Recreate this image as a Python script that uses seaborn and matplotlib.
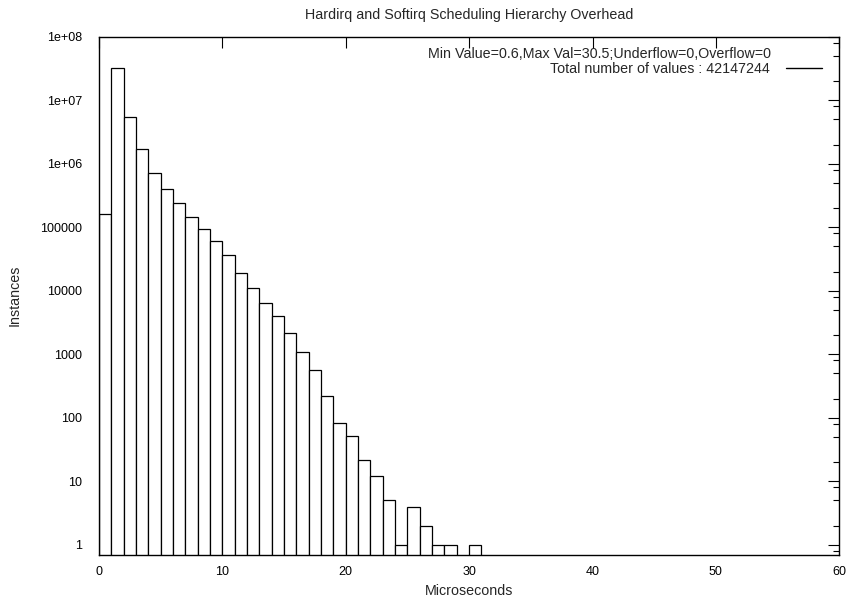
import numpy as np
import pandas as pd
import seaborn as sns
import matplotlib
matplotlib.use("Agg")
import matplotlib.pyplot as plt
from matplotlib.ticker import FixedLocator, LogLocator, NullFormatter
from matplotlib.lines import Line2D

# ---- data ----
bin_left = list(range(0, 31))
counts = [163000, 32500000, 5400000, 1710000, 710000, 407000, 240000, 144000,
          93400, 60500, 36400, 19000, 11000, 6430, 3970, 2130, 1090, 557,
          221, 83, 52, 22, 12, 5, 1, 4, 2, 1, 1, 0, 1]
x_ticks = [0, 10, 20, 30, 40, 50, 60]
y_ticks = [1, 10, 100, 1000, 10000, 100000, 1e6, 1e7, 1e8]
y_tick_labels = ["1", "10", "100", "1000", "10000", "100000", "1e+06", "1e+07", "1e+08"]
title = "Hardirq and Softirq Scheduling Hierarchy Overhead"
info_text = "Min Value=0.6,Max Val=30.5;Underflow=0,Overflow=0"
legend_text = "Total number of values : 42147244"

df = pd.DataFrame({"x": [b + 0.5 for b in bin_left], "n": counts})

sns.set_theme(style="white")
plt.rcParams["font.family"] = ["Liberation Sans", "DejaVu Sans"]
FS_TICK = 9.0
FS = 10.3

fig = plt.figure(figsize=(8.52, 6.04), dpi=100)
W, H = 852, 604
ax = fig.add_axes([99 / W, 1 - 554.7 / H, (839.3 - 99) / W, (554.7 - 36.7) / H])

edges = list(range(0, 32))
sns.histplot(data=df, x="x", weights="n", bins=edges, ax=ax,
             color="white", edgecolor="black", linewidth=0.9, alpha=1.0)

ax.set_yscale("log")
ax.set_xlim(0, 60)
ax.set_ylim(0.7, 1e8)

ax.xaxis.set_major_locator(FixedLocator(x_ticks))
ax.set_xticklabels([str(t) for t in x_ticks])
ax.yaxis.set_major_locator(FixedLocator(y_ticks))
ax.set_yticklabels(y_tick_labels)
ax.yaxis.set_minor_locator(LogLocator(base=10, subs=(2.0, 5.0, 8.0), numticks=20))
ax.yaxis.set_minor_formatter(NullFormatter())

ax.tick_params(axis="both", which="both", direction="in", top=True, right=True,
               colors="black", labelsize=FS_TICK, width=0.8)
ax.tick_params(axis="both", which="major", length=8)
ax.tick_params(axis="y", which="minor", length=4)
ax.tick_params(axis="y", pad=12)
ax.tick_params(axis="x", pad=8)

for s in ax.spines.values():
    s.set_color("black")
    s.set_linewidth(1.0)

ax.set_xlabel("")
ax.set_ylabel("")
fig.text(469 / W, 1 - 591 / H, "Microseconds", ha="center", va="center", fontsize=FS)
fig.text(15 / W, 1 - 295 / H, "Instances", ha="center", va="center",
         rotation=90, fontsize=FS)
fig.text(469 / W, 1 - 15 / H, title, ha="center", va="center", fontsize=FS)
fig.text(771.5 / W, 1 - 54 / H, info_text, ha="right", va="center", fontsize=FS)

handle = Line2D([], [], color="black", linewidth=1.0)
leg = ax.legend([handle], [legend_text], loc="center right",
                bbox_to_anchor=(822 / W, 1 - 69 / H), bbox_transform=fig.transFigure,
                markerfirst=False, frameon=False, fontsize=FS,
                handlelength=2.5, handletextpad=1.12, borderpad=0, borderaxespad=0)

fig.savefig("out.png", dpi=100)
